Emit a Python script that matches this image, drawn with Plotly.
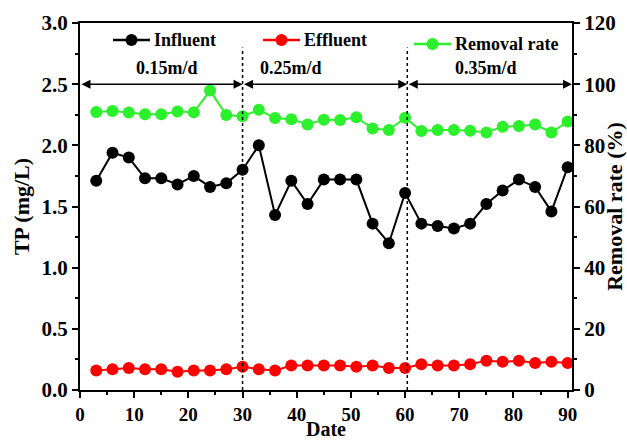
import plotly.graph_objects as go

days = [3, 6, 9, 12, 15, 18, 21, 24, 27, 30, 33, 36, 39, 42, 45, 48, 51, 54, 57, 60,
        63, 66, 69, 72, 75, 78, 81, 84, 87, 90]
influent = [1.71, 1.94, 1.90, 1.73, 1.73, 1.68, 1.75, 1.66, 1.69, 1.80, 2.00, 1.43, 1.71, 1.52,
            1.72, 1.72, 1.72, 1.36, 1.20, 1.61, 1.36, 1.34, 1.32, 1.36, 1.52, 1.63, 1.72, 1.66,
            1.46, 1.82]
effluent = [0.16, 0.17, 0.18, 0.17, 0.17, 0.15, 0.16, 0.16, 0.17, 0.19, 0.17, 0.16, 0.20, 0.20,
            0.20, 0.20, 0.19, 0.20, 0.18, 0.18, 0.21, 0.20, 0.20, 0.21, 0.24, 0.23, 0.24, 0.22,
            0.23, 0.22]
removal = [90.9, 91.2, 90.7, 90.2, 90.2, 91.1, 90.8, 97.9, 89.9, 89.5, 91.6, 88.9, 88.5, 86.8,
           88.4, 88.3, 89.2, 85.5, 85.0, 89.0, 84.7, 85.0, 85.0, 84.8, 84.2, 86.1, 86.3, 86.8,
           84.2, 87.8]
phase_bounds = [0, 30, 60.4, 90.8]
phase_labels = ["0.15m/d", "0.25m/d", "0.35m/d"]
phase_label_x = [16, 39, 75]

FONT = "Liberation Serif"
W, H = 627, 442
ML, MR, MT, MB = 80, 55, 23, 52
PW, PH = W - ML - MR, H - MT - MB
GREEN = "#2bf02b"
TICKSIZE = 21
TITLESIZE = 22

fig = go.Figure()
fig.add_trace(go.Scatter(x=days, y=influent, mode="lines+markers", name="Influent",
                         line=dict(color="black", width=2), marker=dict(color="black", size=12)))
fig.add_trace(go.Scatter(x=days, y=effluent, mode="lines+markers", name="Effluent",
                         line=dict(color="#ff0000", width=2), marker=dict(color="#ff0000", size=12)))
fig.add_trace(go.Scatter(x=days, y=removal, mode="lines+markers", name="Removal rate", yaxis="y2",
                         line=dict(color=GREEN, width=2), marker=dict(color=GREEN, size=12)))

shapes = []
annotations = []
for xb in phase_bounds[1:3]:
    shapes.append(dict(type="line", xref="x", yref="y", x0=xb, x1=xb, y0=0, y1=2.8,
                       line=dict(color="black", width=1.5, dash="dot")))
for i in range(3):
    a, b = phase_bounds[i], phase_bounds[i + 1]
    annotations.append(dict(x=b, y=2.5, ax=a, ay=2.5, xref="x", yref="y", axref="x", ayref="y",
                            showarrow=True, arrowhead=2, arrowside="end+start", arrowsize=1.2,
                            arrowwidth=1.5, arrowcolor="black", text=""))
    annotations.append(dict(x=phase_label_x[i], y=2.63, xref="x", yref="y",
                            text="<b>%s</b>" % phase_labels[i],
                            showarrow=False, font=dict(family=FONT, size=18, color="black")))

def px2paper(px, py):
    return (px - ML) / PW, (H - MB - py) / PH

legend_items = [("Influent", "black", 113, 40), ("Effluent", "#ff0000", 263, 40),
                ("Removal rate", GREEN, 414, 44)]
for name, col, lx, ly in legend_items:
    x0, yy = px2paper(lx, ly)
    x1, _ = px2paper(lx + 37, ly)
    xm, _ = px2paper(lx + 18.5, ly)
    shapes.append(dict(type="line", xref="paper", yref="paper", x0=x0, x1=x1, y0=yy, y1=yy,
                       line=dict(color=col, width=2.5)))
    shapes.append(dict(type="circle", xref="paper", yref="paper", xsizemode="pixel", ysizemode="pixel",
                       xanchor=xm, yanchor=yy, x0=-6, x1=6, y0=-6, y1=6,
                       fillcolor=col, line=dict(color=col, width=0)))
    xt, _ = px2paper(lx + 39, ly)
    annotations.append(dict(x=xt, y=yy, xref="paper", yref="paper", xanchor="left", yanchor="middle",
                            text="<b>%s</b>" % name, showarrow=False,
                            font=dict(family=FONT, size=18, color="black")))

# x-axis title placed below tick labels
_, ydate = px2paper(0, 442)
annotations.append(dict(x=0.5, y=ydate, xref="paper", yref="paper", xanchor="center", yanchor="bottom",
                        text="<b>Date</b>", showarrow=False,
                        font=dict(family=FONT, size=20, color="black")))

axis_common = dict(showline=True, linecolor="black", linewidth=2, ticks="outside", ticklen=6,
                   tickwidth=2, tickcolor="black", showgrid=False, zeroline=False, automargin=False)

fig.update_layout(
    width=W, height=H, margin=dict(l=ML, r=MR, t=MT, b=MB),
    plot_bgcolor="white", paper_bgcolor="white", showlegend=False,
    font=dict(family=FONT, color="black"),
    xaxis=dict(range=[0, 90.8], dtick=10, tick0=0, mirror=True,
               minor=dict(ticks="outside", ticklen=3, tickwidth=2, tickcolor="black", dtick=5),
               tickfont=dict(family=FONT, size=19, color="black"),
               tickprefix="<b>", ticksuffix="</b>", **axis_common),
    yaxis=dict(range=[0, 3.0], dtick=0.5, tickformat=".1f",
               minor=dict(ticks="outside", ticklen=3, tickwidth=2, tickcolor="black", dtick=0.25),
               tickfont=dict(family=FONT, size=TICKSIZE, color="black"),
               title=dict(text="<b>TP (mg/L)</b>", font=dict(family=FONT, size=TITLESIZE), standoff=6),
               tickprefix="<b>", ticksuffix="</b>", **axis_common),
    yaxis2=dict(range=[0, 120], dtick=20, overlaying="y", side="right",
                minor=dict(ticks="outside", ticklen=3, tickwidth=2, tickcolor="black", dtick=10),
                tickfont=dict(family=FONT, size=TICKSIZE, color="black"),
                title=dict(text="<b>Removal rate (%)</b>", font=dict(family=FONT, size=TITLESIZE), standoff=4),
                tickprefix="<b>", ticksuffix="</b>", **axis_common),
    shapes=shapes, annotations=annotations,
)
fig.write_html("out.html")
